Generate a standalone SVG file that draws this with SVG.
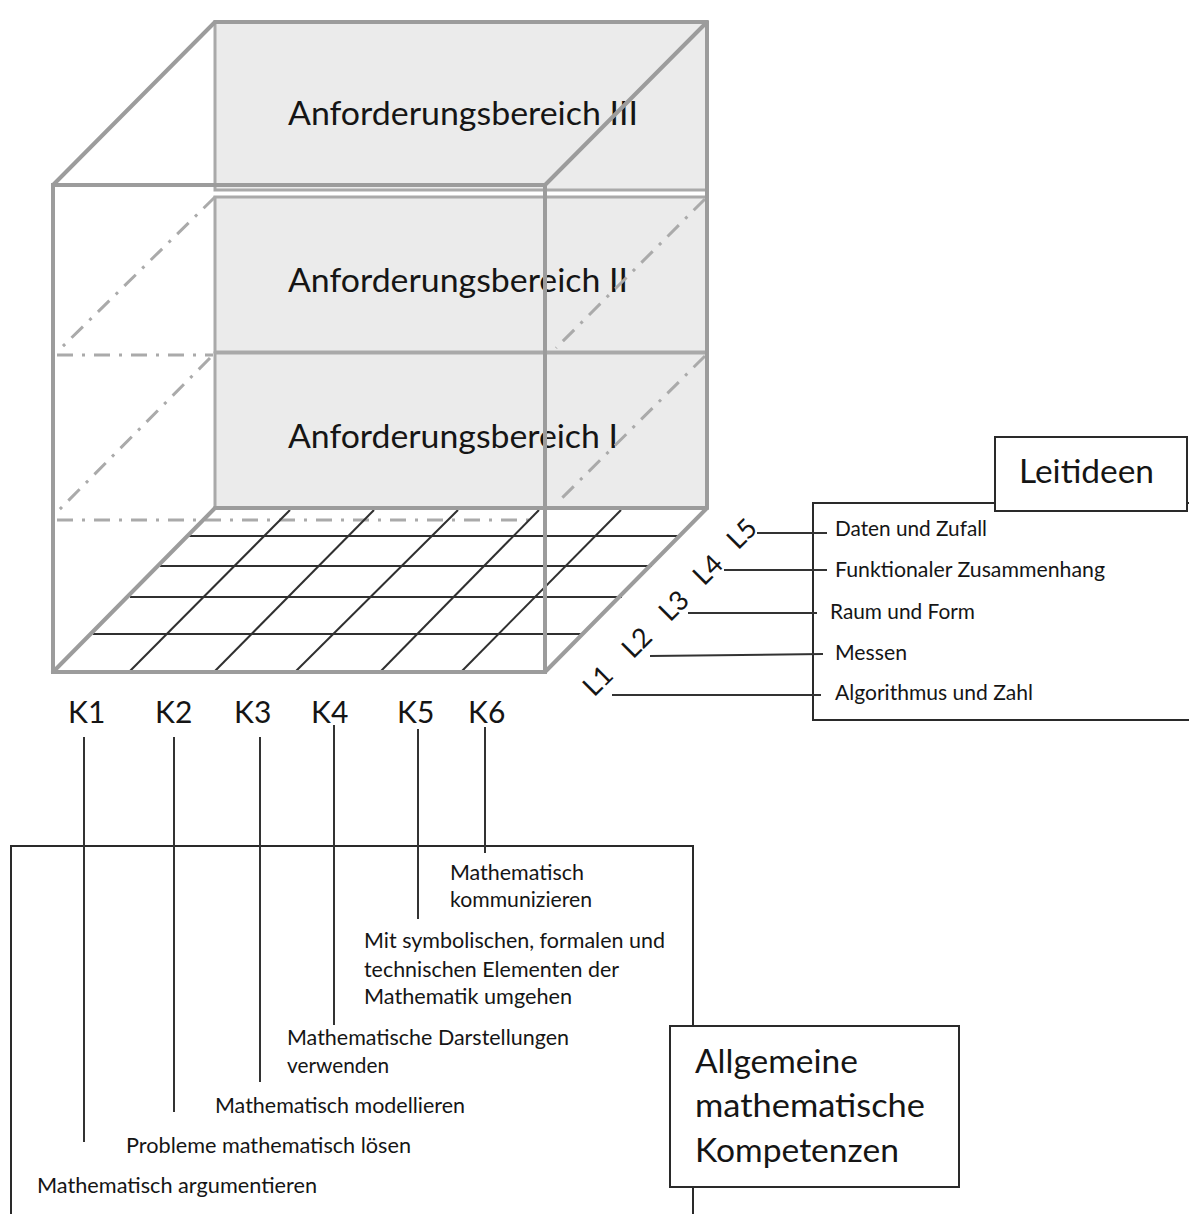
<svg xmlns="http://www.w3.org/2000/svg" width="1189" height="1214" viewBox="0 0 1189 1214">
<style>
.bg{fill:#ffffff}
.panel{fill:#ebebeb;stroke:#a9a9a9;stroke-width:3}
.edge{fill:none;stroke:#9c9c9c;stroke-width:4;stroke-linecap:round}
.hidden{fill:none;stroke:#aaaaaa;stroke-width:3;stroke-dasharray:16 9 3 9}
.grid{fill:none;stroke:#303030;stroke-width:2}
.lead{fill:none;stroke:#333333;stroke-width:2}
.box{fill:#ffffff;stroke:#2a2a2a;stroke-width:2}
.frame{fill:none;stroke:#2a2a2a;stroke-width:2}
text{font-family:Lato,"Liberation Sans",sans-serif;fill:#151515}
.big{font-size:32px}
.k{font-size:30px}
.l{font-size:27px}
.s{font-size:21px}
</style>
<rect class="bg" x="0" y="0" width="1189" height="1214"/>

<g id="cube">
  <g id="panel-3">
    <rect class="panel" x="215" y="22" width="492" height="168"/>
    <text class="big" x="288" y="125" textLength="350" lengthAdjust="spacingAndGlyphs">Anforderungsbereich III</text>
  </g>
  <g id="panel-2">
    <rect class="panel" x="215" y="197" width="492" height="155"/>
    <text class="big" x="288" y="292" textLength="340" lengthAdjust="spacingAndGlyphs">Anforderungsbereich II</text>
  </g>
  <g id="panel-1">
    <rect class="panel" x="215" y="353" width="492" height="155"/>
    <text class="big" x="288" y="448" textLength="330" lengthAdjust="spacingAndGlyphs">Anforderungsbereich I</text>
  </g>
  <g id="hidden-edges">
    <line class="hidden" x1="215" y1="197" x2="57" y2="352"/>
    <line class="hidden" x1="57" y1="355" x2="213" y2="355"/>
    <line class="hidden" x1="210" y1="358" x2="57" y2="512"/>
    <line class="hidden" x1="57" y1="520" x2="530" y2="520"/>
    <line class="hidden" x1="705" y1="199" x2="556" y2="348"/>
    <line class="hidden" x1="705" y1="356" x2="558" y2="502"/>
  </g>
  <g id="floor-grid">
    <line class="grid" x1="188" y1="536" x2="680" y2="536"/>
    <line class="grid" x1="160" y1="566" x2="652" y2="566"/>
    <line class="grid" x1="130" y1="597" x2="622" y2="597"/>
    <line class="grid" x1="93" y1="634" x2="584" y2="634"/>
    <line class="grid" x1="129" y1="672" x2="290" y2="510"/>
    <line class="grid" x1="214" y1="672" x2="374" y2="510"/>
    <line class="grid" x1="295" y1="672" x2="458" y2="510"/>
    <line class="grid" x1="380" y1="672" x2="539" y2="510"/>
    <line class="grid" x1="461" y1="672" x2="621" y2="510"/>
  </g>
  <g id="cube-edges">
    <line class="edge" x1="53" y1="185" x2="215" y2="22"/>
    <line class="edge" x1="545" y1="185" x2="707" y2="22"/>
    <line class="edge" x1="215" y1="22" x2="707" y2="22"/>
    <line class="edge" x1="707" y1="22" x2="707" y2="508"/>
    <rect class="edge" x="53" y="185" width="492" height="487"/>
    <line class="edge" x1="53" y1="672" x2="215" y2="508"/>
    <line class="edge" x1="545" y1="672" x2="707" y2="508"/>
    <line class="edge" x1="215" y1="508" x2="707" y2="508"/>
  </g>
</g>

<g id="k-labels">
  <text class="k" x="68" y="723">K1</text>
  <text class="k" x="155" y="723">K2</text>
  <text class="k" x="234" y="723">K3</text>
  <text class="k" x="311" y="723">K4</text>
  <text class="k" x="397" y="723">K5</text>
  <text class="k" x="468" y="723">K6</text>
</g>

<g id="l-labels">
  <text class="l" text-anchor="middle" transform="translate(742,534) rotate(-45)" y="9">L5</text>
  <text class="l" text-anchor="middle" transform="translate(708,570) rotate(-45)" y="9">L4</text>
  <text class="l" text-anchor="middle" transform="translate(674,606) rotate(-45)" y="9">L3</text>
  <text class="l" text-anchor="middle" transform="translate(637,643) rotate(-45)" y="9">L2</text>
  <text class="l" text-anchor="middle" transform="translate(598,681) rotate(-45)" y="9">L1</text>
</g>

<g id="leitideen">
  <path class="frame" d="M1192,503 H813 V720 H1192"/>
  <g id="leitideen-title">
    <rect class="box" x="995" y="437" width="192" height="74"/>
    <text class="big" x="1019" y="483" textLength="135" lengthAdjust="spacingAndGlyphs">Leitideen</text>
  </g>
  <text class="s" x="835" y="536" textLength="152" lengthAdjust="spacingAndGlyphs">Daten und Zufall</text>
  <text class="s" x="835" y="577" textLength="270" lengthAdjust="spacingAndGlyphs">Funktionaler Zusammenhang</text>
  <text class="s" x="830" y="619" textLength="145" lengthAdjust="spacingAndGlyphs">Raum und Form</text>
  <text class="s" x="835" y="660" textLength="72" lengthAdjust="spacingAndGlyphs">Messen</text>
  <text class="s" x="835" y="700" textLength="198" lengthAdjust="spacingAndGlyphs">Algorithmus und Zahl</text>
</g>

<g id="kompetenzen">
  <path class="frame" d="M11,1216 V846 H693 V1216"/>
  <text class="s" x="450" y="880" textLength="134" lengthAdjust="spacingAndGlyphs">Mathematisch</text>
  <text class="s" x="450" y="907" textLength="142" lengthAdjust="spacingAndGlyphs">kommunizieren</text>
  <text class="s" x="364" y="948" textLength="301" lengthAdjust="spacingAndGlyphs">Mit symbolischen, formalen und</text>
  <text class="s" x="364" y="977" textLength="255" lengthAdjust="spacingAndGlyphs">technischen Elementen der</text>
  <text class="s" x="364" y="1004" textLength="208" lengthAdjust="spacingAndGlyphs">Mathematik umgehen</text>
  <text class="s" x="287" y="1045" textLength="282" lengthAdjust="spacingAndGlyphs">Mathematische Darstellungen</text>
  <text class="s" x="287" y="1073" textLength="102" lengthAdjust="spacingAndGlyphs">verwenden</text>
  <text class="s" x="215" y="1113" textLength="250" lengthAdjust="spacingAndGlyphs">Mathematisch modellieren</text>
  <text class="s" x="126" y="1153" textLength="285" lengthAdjust="spacingAndGlyphs">Probleme mathematisch lösen</text>
  <text class="s" x="37" y="1193" textLength="280" lengthAdjust="spacingAndGlyphs">Mathematisch argumentieren</text>
  <g id="kompetenzen-title">
    <rect class="box" x="670" y="1026" width="289" height="161"/>
    <text class="big" x="695" y="1073" textLength="163" lengthAdjust="spacingAndGlyphs">Allgemeine</text>
    <text class="big" x="695" y="1117" textLength="230" lengthAdjust="spacingAndGlyphs">mathematische</text>
    <text class="big" x="695" y="1162" textLength="204" lengthAdjust="spacingAndGlyphs">Kompetenzen</text>
  </g>
</g>

<g id="connectors">
  <line class="lead" x1="757" y1="533" x2="827" y2="533"/>
  <line class="lead" x1="724" y1="570" x2="827" y2="570"/>
  <line class="lead" x1="688" y1="613" x2="817" y2="613"/>
  <line class="lead" x1="650" y1="656" x2="823" y2="654"/>
  <line class="lead" x1="612" y1="695" x2="821" y2="695"/>
  <line class="lead" x1="84" y1="737" x2="84" y2="1142"/>
  <line class="lead" x1="174" y1="737" x2="174" y2="1112"/>
  <line class="lead" x1="260" y1="737" x2="260" y2="1082"/>
  <line class="lead" x1="334" y1="725" x2="334" y2="1025"/>
  <line class="lead" x1="418" y1="729" x2="418" y2="919"/>
  <line class="lead" x1="485" y1="727" x2="485" y2="853"/>
</g>
</svg>
